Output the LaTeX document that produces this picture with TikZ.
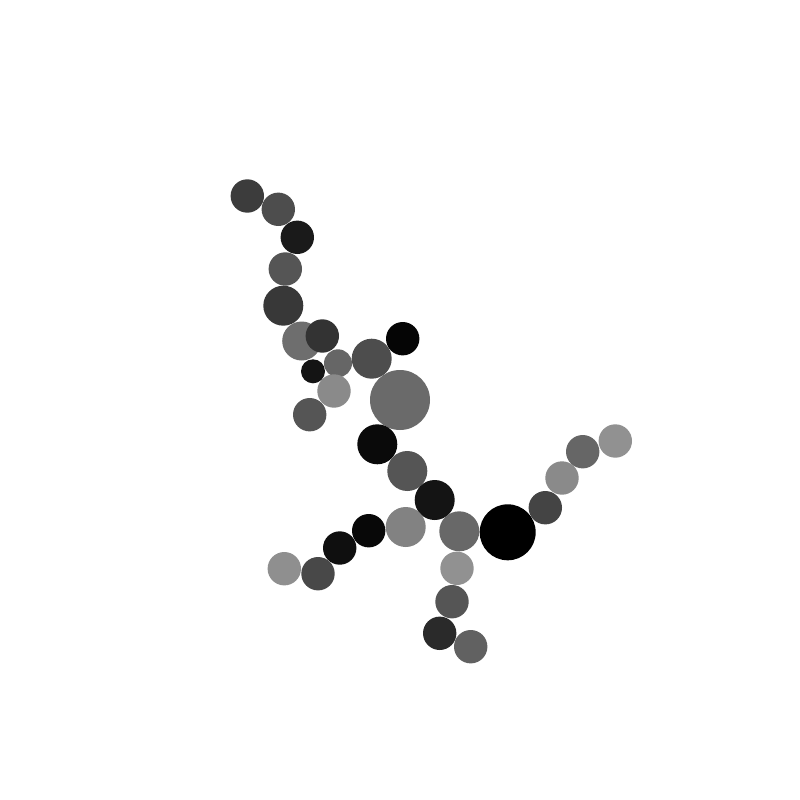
\documentclass[tikz,border=0pt]{standalone}
\usepackage{tikz}
\newcommand\ballat[4]{\definecolor{ballcol}{RGB}{#4,#4,#4}\fill[ballcol] (#1,#2) circle[radius=#3];}
\begin{document}
\begin{tikzpicture}[x=1pt,y=-1pt]
\useasboundingbox[fill=white] (0,0) rectangle (800,800);
\ballat{247.3}{196}{16.7}{60}
\ballat{278.3}{209.3}{16.7}{77}
\ballat{297.3}{237.3}{16.7}{26}
\ballat{285.3}{269}{16.7}{85}
\ballat{283.3}{305.7}{20}{56}
\ballat{301.7}{341}{19.5}{110}
\ballat{322.3}{336}{16.7}{51}
\ballat{338}{363.3}{14}{102}
\ballat{313}{371.3}{12}{20}
\ballat{334}{391}{16.7}{138}
\ballat{309.7}{414.7}{16.7}{85}
\ballat{371.7}{358.7}{20}{77}
\ballat{402.7}{338.7}{16.7}{5}
\ballat{400}{400}{30}{106}
\ballat{377.3}{444.3}{20}{10}
\ballat{407.3}{471}{20}{85}
\ballat{434.7}{500}{20}{20}
\ballat{405.7}{527}{20}{130}
\ballat{368.7}{530.7}{16.7}{8}
\ballat{339.7}{548}{16.7}{15}
\ballat{284.3}{568.7}{16.7}{143}
\ballat{318}{573.7}{16.7}{72}
\ballat{459.3}{531.3}{20}{104}
\ballat{507.7}{532.3}{28}{0}
\ballat{545.3}{507.7}{16.7}{68}
\ballat{562}{478}{16.7}{138}
\ballat{582.7}{451.7}{16.7}{102}
\ballat{615.3}{441}{16.7}{145}
\ballat{457}{568.3}{16.7}{145}
\ballat{452}{601.7}{16.7}{85}
\ballat{439.7}{633.3}{16.7}{42}
\ballat{470.7}{646.7}{16.7}{97}
\end{tikzpicture}
\end{document}
